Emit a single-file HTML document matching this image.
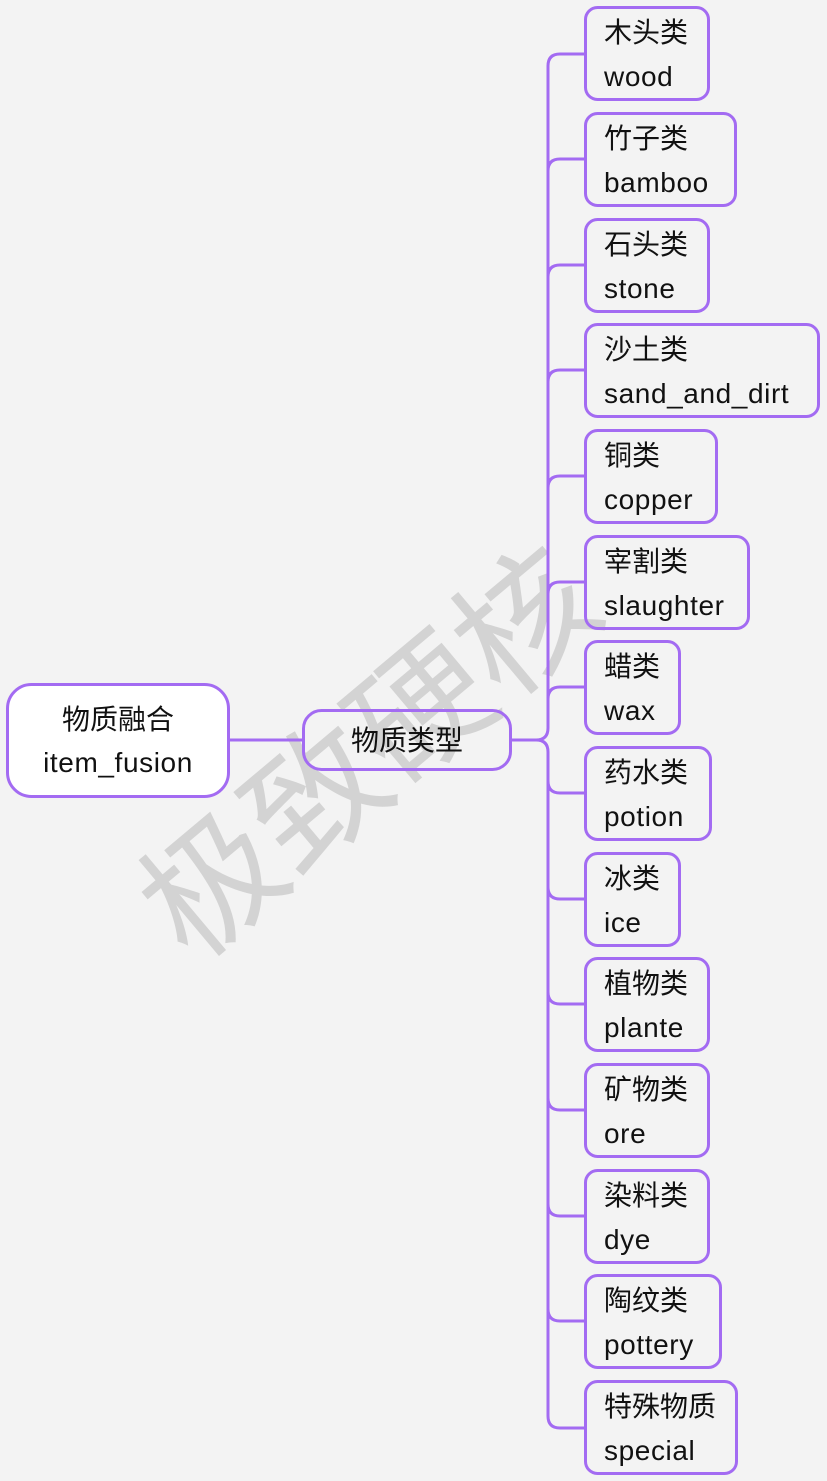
<!DOCTYPE html>
<html><head><meta charset="utf-8"><style>
html,body{margin:0;padding:0;background:#f3f3f3;}
svg{display:block;}
text{font-family:"Liberation Sans","Noto Sans CJK SC",sans-serif;fill:#111;}
.l{letter-spacing:0.6px;}
</style></head><body>
<svg width="827" height="1481" viewBox="0 0 827 1481" xmlns="http://www.w3.org/2000/svg">
<rect width="827" height="1481" fill="#f3f3f3"/>
<text x="0" y="0" font-size="136" style="fill:#c8c8c8;fill-opacity:0.75" text-anchor="middle" transform="translate(400,790) rotate(-40)">极致硬核</text>
<g fill="none" stroke="#a36bf2" stroke-width="3">
<line x1="229" y1="740" x2="303" y2="740"/>
<path d="M511 740 H536 Q548 740 548 728 V66 Q548 54 560 54 H585"/>
<path d="M511 740 H536 Q548 740 548 752 V1416 Q548 1428 560 1428 H585"/>
<path d="M548 171 Q548 159 560 159 H585 M548 277 Q548 265 560 265 H585 M548 382 Q548 370 560 370 H585 M548 488 Q548 476 560 476 H585 M548 594 Q548 582 560 582 H585 M548 699 Q548 687 560 687 H585 M548 781 Q548 793 560 793 H585 M548 887 Q548 899 560 899 H585 M548 992 Q548 1004 560 1004 H585 M548 1098 Q548 1110 560 1110 H585 M548 1204 Q548 1216 560 1216 H585 M548 1309 Q548 1321 560 1321 H585"/>
</g>
<g fill="none" stroke="#a36bf2" stroke-width="3">
<rect x="7.5" y="684.5" width="221" height="112" rx="24" fill="#fff"/>
<rect x="303.5" y="710.5" width="207" height="59" rx="18"/>
<rect x="585.5" y="7.5" width="123" height="92" rx="12"/>
<rect x="585.5" y="113.5" width="150" height="92" rx="12"/>
<rect x="585.5" y="219.5" width="123" height="92" rx="12"/>
<rect x="585.5" y="324.5" width="233" height="92" rx="12"/>
<rect x="585.5" y="430.5" width="131" height="92" rx="12"/>
<rect x="585.5" y="536.5" width="163" height="92" rx="12"/>
<rect x="585.5" y="641.5" width="94" height="92" rx="12"/>
<rect x="585.5" y="747.5" width="125" height="92" rx="12"/>
<rect x="585.5" y="853.5" width="94" height="92" rx="12"/>
<rect x="585.5" y="958.5" width="123" height="92" rx="12"/>
<rect x="585.5" y="1064.5" width="123" height="92" rx="12"/>
<rect x="585.5" y="1170.5" width="123" height="92" rx="12"/>
<rect x="585.5" y="1275.5" width="135" height="92" rx="12"/>
<rect x="585.5" y="1381.5" width="151" height="92" rx="12"/>
</g>
<g font-size="28" text-anchor="middle">
<text x="118" y="729">物质融合</text>
<text x="118" y="772" class="l">item_fusion</text>
<text x="407" y="750">物质类型</text>
</g>
<g font-size="28">
<text x="604" y="42">木头类</text><text x="604" y="86" class="l">wood</text>
<text x="604" y="148">竹子类</text><text x="604" y="192" class="l">bamboo</text>
<text x="604" y="254">石头类</text><text x="604" y="298" class="l">stone</text>
<text x="604" y="359">沙土类</text><text x="604" y="403" class="l">sand_and_dirt</text>
<text x="604" y="465">铜类</text><text x="604" y="509" class="l">copper</text>
<text x="604" y="571">宰割类</text><text x="604" y="615" class="l">slaughter</text>
<text x="604" y="676">蜡类</text><text x="604" y="720" class="l">wax</text>
<text x="604" y="782">药水类</text><text x="604" y="826" class="l">potion</text>
<text x="604" y="888">冰类</text><text x="604" y="932" class="l">ice</text>
<text x="604" y="993">植物类</text><text x="604" y="1037" class="l">plante</text>
<text x="604" y="1099">矿物类</text><text x="604" y="1143" class="l">ore</text>
<text x="604" y="1205">染料类</text><text x="604" y="1249" class="l">dye</text>
<text x="604" y="1310">陶纹类</text><text x="604" y="1354" class="l">pottery</text>
<text x="604" y="1416">特殊物质</text><text x="604" y="1460" class="l">special</text>
</g>
</svg>
</body></html>
